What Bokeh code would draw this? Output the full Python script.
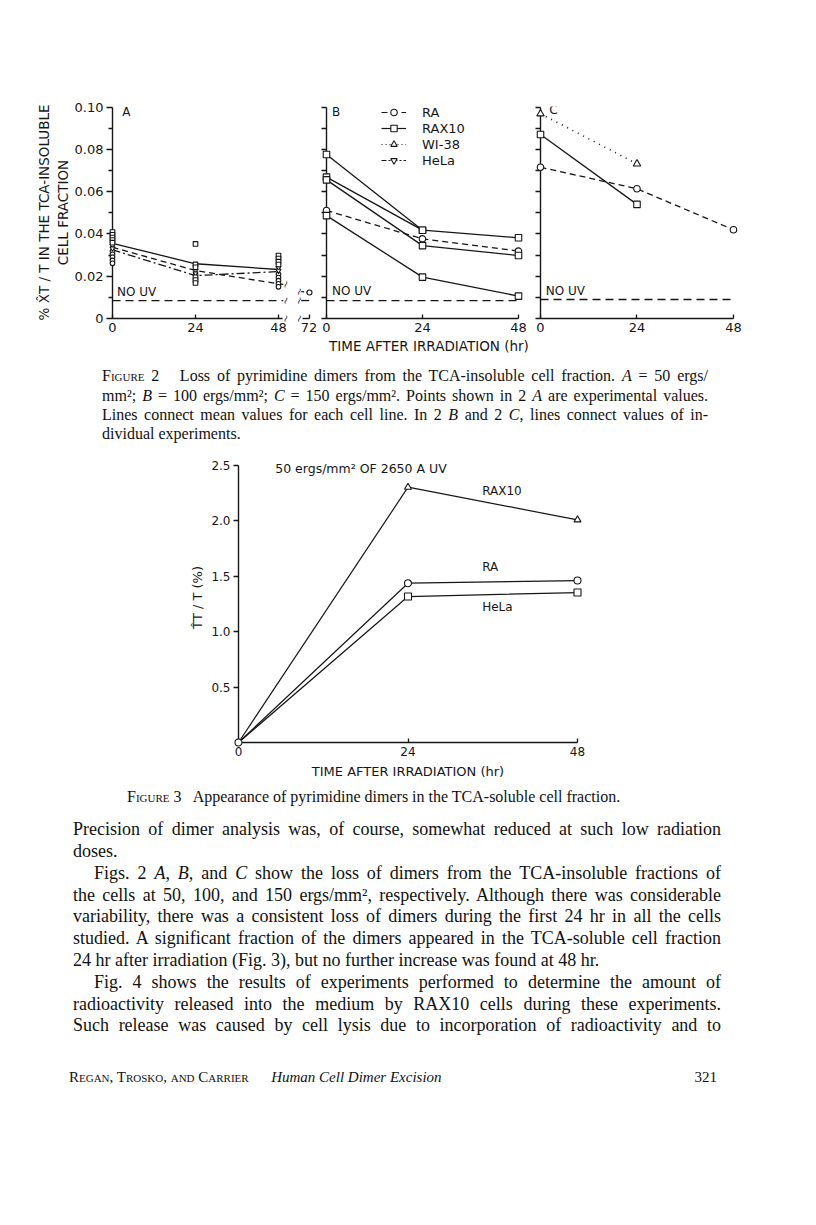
import numpy as np
from bokeh.plotting import figure
from bokeh.models import (Range1d, LinearAxis, FixedTicker, CustomJSTickFormatter,
                          Label, Legend, LegendItem, Div, ColumnDataSource)
from bokeh.core.properties import value
from bokeh.layouts import row, column
from bokeh.embed import file_html
from bokeh.resources import INLINE

# ------------------------------------------------------------------ data
HOURS = [0, 24, 48]
HOUR_72 = 72
Y2_MAJOR = [0, 0.02, 0.04, 0.06, 0.08, 0.10]
Y2_MINOR = [0.01, 0.03, 0.05, 0.07, 0.09]

# Figure 2 A (50 ergs/mm2): mean lines per cell line and experimental points
A_RAX10_MEAN = [0.0356, 0.0259, 0.0232]
A_RA_MEAN = [0.0337, 0.0227, 0.0164]
A_HELA_MEAN = [0.0325, 0.0203, 0.0222]
A_RA_72 = 0.0123
A_RAX10_T = [0, 0, 0, 0, 0, 24, 24, 24, 24, 24, 24, 48, 48, 48, 48]
A_RAX10_V = [0.0409, 0.0396, 0.0383, 0.0371, 0.0359, 0.0353, 0.0256, 0.0242,
             0.0195, 0.0182, 0.0168, 0.0298, 0.0284, 0.0269, 0.0255]
A_RA_T = [0, 0, 0, 0, 0, 24, 48, 48, 48, 48, 48]
A_RA_V = [0.0318, 0.0304, 0.0290, 0.0275, 0.0261, 0.0208, 0.0209, 0.0194, 0.0179, 0.0164, 0.0150]
A_HELA_T = [0, 0, 24, 24, 48, 48]
A_HELA_V = [0.0345, 0.0332, 0.0227, 0.0214, 0.0240, 0.0226]
NO_UV_A = 0.0085

# Figure 2 B (100 ergs/mm2): individual experiments
B_RAX10 = [[0.0776, 0.0418, 0.0382], [0.0669, 0.0418], [0.0656, 0.0345, 0.0298],
           [0.0487, 0.0196, 0.0106]]
B_RA = [0.0511, 0.0377, 0.0319]
NO_UV_B = 0.0085

# Figure 2 C (150 ergs/mm2)
C_WI38 = [0.0969, 0.0732]
C_RAX10 = [0.0871, 0.0540]
C_RA = [0.0716, 0.0614, 0.0420]
NO_UV_C = 0.0090

# Figure 3 (TCA-soluble fraction, % TT/T)
F3_RAX10 = [0, 2.30, 2.006]
F3_RA = [0, 1.435, 1.459]
F3_HELA = [0, 1.315, 1.351]
F3_YTICKS = [0.5, 1.0, 1.5, 2.0, 2.5]

LEGEND_NAMES = ["RA", "RAX10", "WI-38", "HeLa"]

# ------------------------------------------------------------------ styles
INK = "#161616"
LW = 1.3
SANS = "DejaVu Sans"
DASH_RA = "6 4"
DASH_HELA = "8 3 2 3"
DASH_WI = "1 5"
DASH_NOUV = "8 5"

Y2_PX = 2113.0          # px per unit of % dimer (fig 2)
FH2 = 212
Y2_TOP = FH2 / Y2_PX
TOP2 = 106
BOT2 = 42
BREAK_L, BREAK_R = 49.4, 69.6          # where lines stop/restart at the axis break
MARK_L, MARK_R = 50.0, 69.0            # where the break squiggles sit
AXIS_A_END, AXIS_72_START = 49.3, 69.9


def make_fig(fw, fh, xr, yr, left, right, top, bottom, **kw):
    p = figure(frame_width=fw, frame_height=fh, x_range=xr, y_range=yr,
               output_backend="svg", toolbar_location=None,
               min_border_left=left, min_border_right=right,
               min_border_top=top, min_border_bottom=bottom, **kw)
    p.grid.visible = False
    p.outline_line_color = None
    p.background_fill_color = "white"
    p.border_fill_color = "white"
    return p


def style_axis(ax, size="13px"):
    ax.axis_line_color = INK
    ax.axis_line_width = 1.4
    ax.major_tick_line_color = INK
    ax.major_tick_line_width = 1.3
    ax.minor_tick_line_color = INK
    ax.minor_tick_line_width = 1.3
    ax.major_label_text_font = SANS
    ax.major_label_text_font_size = size
    ax.major_label_text_color = INK
    ax.axis_label_text_font = SANS
    ax.axis_label_text_font_size = "13.5px"
    ax.axis_label_text_font_style = "normal"
    ax.axis_label_text_color = INK


def add_line(p, x, y, dash="solid", lw=LW, **kw):
    r = p.line(x, y, line_color=INK, line_width=lw, line_dash=dash, **kw)
    r.level = "overlay"
    return r


def add_pts(p, x, y, marker, size, **kw):
    r = p.scatter(x, y, marker=marker, size=size, fill_color="white",
                  line_color=INK, line_width=1.1, **kw)
    r.level = "overlay"
    return r


def add_text(p, x, y, text, size="12px", align="left", angle=0.0, **kw):
    lab = Label(x=x, y=y, text=text, text_font=SANS, text_font_size=size,
                text_color=INK, text_align=align, text_baseline="middle",
                angle=angle, **kw)
    p.add_layout(lab)
    return lab


def add_breaks(p, xs, ys):
    """Axis-break squiggles, drawn unclipped on the overlay level."""
    r = p.text(x=xs, y=ys, text=["~"] * len(xs), angle=1.2,
               text_font=value(SANS), text_font_size=value("10px"),
               text_color=INK, text_align=value("center"),
               text_baseline=value("middle"))
    r.level = "overlay"
    return r


def y2_axis(p, labels):
    ya = p.yaxis[0]
    style_axis(ya)
    ya.ticker = FixedTicker(ticks=Y2_MAJOR, minor_ticks=Y2_MINOR)
    ya.bounds = (0, 0.10)
    ya.major_tick_in = 0
    ya.minor_tick_in = 0
    if labels:
        ya.formatter = CustomJSTickFormatter(code="return tick == 0 ? '0' : tick.toFixed(2);")
        ya.major_tick_out = 6
        ya.minor_tick_out = 4
        ya.major_label_standoff = 3
    else:
        ya.formatter = CustomJSTickFormatter(code="return '';")
        ya.major_label_text_font_size = "0px"
        ya.major_label_standoff = 0
        ya.major_tick_out = 5
        ya.minor_tick_out = 5
    return ya


def x_axis(ax, ticks, bounds):
    style_axis(ax)
    ax.ticker = FixedTicker(ticks=ticks)
    ax.bounds = bounds
    ax.major_tick_in = 4
    ax.major_tick_out = 0
    ax.minor_tick_line_color = None
    ax.major_label_standoff = 4


# ------------------------------------------------------------------ Figure 2 A
A_PX = 3.458
FW_A = 180
pA = make_fig(FW_A, FH2, Range1d(0, FW_A / A_PX), Range1d(0, Y2_TOP), 112, 0, TOP2, BOT2)
ya = y2_axis(pA, True)
ya.axis_label = "CELL FRACTION"
ya.axis_label_standoff = 1
ya_outer = LinearAxis(axis_label="% X\u0302T / T IN THE TCA-INSOLUBLE")
style_axis(ya_outer)
ya_outer.axis_line_color = None
ya_outer.major_tick_line_color = None
ya_outer.minor_tick_line_color = None
ya_outer.major_tick_out = 0
ya_outer.major_tick_in = 0
ya_outer.minor_tick_out = 0
ya_outer.minor_tick_in = 0
ya_outer.major_label_text_font_size = "0px"
ya_outer.formatter = CustomJSTickFormatter(code="return '';")
ya_outer.major_label_standoff = 0
ya_outer.axis_label_standoff = 0
pA.add_layout(ya_outer, "left")
x_axis(pA.xaxis[0], HOURS, (0, AXIS_A_END))

add_line(pA, [0, BREAK_L], [NO_UV_A, NO_UV_A], DASH_NOUV)
add_line(pA, HOURS, A_RAX10_MEAN)
add_line(pA, HOURS, A_RA_MEAN, DASH_RA)
add_line(pA, HOURS, A_HELA_MEAN, DASH_HELA)
ra_break_l = float(np.interp(BREAK_L, [HOURS[-1], HOUR_72], [A_RA_MEAN[-1], A_RA_72]))
ra_break_r = float(np.interp(BREAK_R, [HOURS[-1], HOUR_72], [A_RA_MEAN[-1], A_RA_72]))
add_line(pA, [HOURS[-1], BREAK_L], [A_RA_MEAN[-1], ra_break_l], DASH_RA)
add_pts(pA, A_RA_T, A_RA_V, "circle", 4.6)
add_pts(pA, A_HELA_T, A_HELA_V, "inverted_triangle", 5)
add_pts(pA, A_RAX10_T, A_RAX10_V, "square", 4.6)
add_breaks(pA, [MARK_L] * 3, [0, NO_UV_A, ra_break_l])
add_text(pA, 2.8, 0.0977, "A")
add_text(pA, 1.3, 0.0124, "NO UV")

# ------------------------------------------------------------------ broken-axis piece at 72 h
FW_72 = 25
X72_AT = 17   # px from this frame's left edge where hour 72 sits
p72 = make_fig(FW_72, FH2,
               Range1d(HOUR_72 - X72_AT / A_PX, HOUR_72 + (FW_72 - X72_AT) / A_PX),
               Range1d(0, Y2_TOP), 0, 0, TOP2, BOT2, y_axis_location=None)
x_axis(p72.xaxis[0], [HOUR_72], (AXIS_72_START, HOUR_72))
add_line(p72, [BREAK_R, HOUR_72], [NO_UV_A, NO_UV_A], DASH_NOUV)
add_line(p72, [BREAK_R, HOUR_72], [ra_break_r, A_RA_72], "3 2")
add_pts(p72, [HOUR_72], [A_RA_72], "circle", 5)
add_breaks(p72, [MARK_R] * 3, [0, NO_UV_A, ra_break_r])

# ------------------------------------------------------------------ Figure 2 B
B_PX = 4.0
FW_B = 205
pB = make_fig(FW_B, FH2, Range1d(0, FW_B / B_PX), Range1d(0, Y2_TOP), 9, 0, TOP2, BOT2)
y2_axis(pB, False)
x_axis(pB.xaxis[0], HOURS, (0, HOURS[-1]))
pB.xaxis[0].axis_label = "TIME AFTER IRRADIATION (hr)"
pB.xaxis[0].axis_label_standoff = 3
add_line(pB, [HOURS[0], HOURS[-1]], [NO_UV_B, NO_UV_B], DASH_NOUV)
add_line(pB, HOURS, B_RA, DASH_RA)
for exp in B_RAX10:
    add_line(pB, HOURS[:len(exp)], exp)
add_pts(pB, HOURS, B_RA, "circle", 6.5)
for exp in B_RAX10:
    add_pts(pB, HOURS[:len(exp)], exp, "square", 6.5)
add_text(pB, 1.4, 0.0977, "B")
add_text(pB, 1.4, 0.0129, "NO UV")

items = []
for name, marker, dash in zip(LEGEND_NAMES,
                              ["circle", "square", "triangle", "inverted_triangle"],
                              [DASH_RA, "solid", "1 3", "5 2 2 2"]):
    src = ColumnDataSource(dict(x=[np.nan], y=[np.nan]))
    lr = pB.line("x", "y", source=src, line_color=INK, line_width=1.2, line_dash=dash)
    sr = pB.scatter("x", "y", source=src, marker=marker, size=7, fill_color="white",
                    line_color=INK, line_width=1.1)
    items.append(LegendItem(label=name, renderers=[lr, sr]))
legend = Legend(items=items, location=(55, 150), orientation="vertical",
                border_line_color=None, background_fill_alpha=0, padding=0, margin=0,
                spacing=0, glyph_width=25, glyph_height=16, label_height=16,
                label_standoff=16, label_text_font=SANS, label_text_font_size="13px",
                label_text_color=INK)
pB.add_layout(legend)

# ------------------------------------------------------------------ Figure 2 C
C_PX = 4.02
FW_C = 220
pC = make_fig(FW_C, FH2, Range1d(0, FW_C / C_PX), Range1d(0, Y2_TOP), 9, 12, TOP2, BOT2)
y2_axis(pC, False)
x_axis(pC.xaxis[0], HOURS, (0, HOURS[-1]))
add_line(pC, [HOURS[0], HOURS[-1]], [NO_UV_C, NO_UV_C], DASH_NOUV)
add_line(pC, HOURS[:2], C_WI38, DASH_WI, lw=1.6)
add_line(pC, HOURS[:2], C_RAX10)
add_line(pC, HOURS, C_RA, DASH_RA)
add_pts(pC, HOURS[:2], C_WI38, "triangle", 7.5)
add_pts(pC, HOURS[:2], C_RAX10, "square", 6.5)
add_pts(pC, HOURS, C_RA, "circle", 6.5)
add_text(pC, 2.2, 0.0985, "C")
add_text(pC, 1.3, 0.0129, "NO UV")

# ------------------------------------------------------------------ Figure 3
F3_YPX = 111.0
FH3 = 290
p3 = make_fig(339, FH3, Range1d(0, 48), Range1d(0, FH3 / F3_YPX), 238, 60, 8, 44)
y3 = p3.yaxis[0]
style_axis(y3, "12px")
y3.ticker = FixedTicker(ticks=F3_YTICKS)
y3.formatter = CustomJSTickFormatter(code="return tick.toFixed(1);")
y3.bounds = (0, 2.5)
y3.major_tick_out = 5
y3.major_tick_in = 0
y3.minor_tick_line_color = None
y3.major_label_standoff = 3
y3.axis_label = "T\u0302T / T (%)"
y3.axis_label_standoff = 3
y3.axis_label_text_font_size = "13px"
x3 = p3.xaxis[0]
x_axis(x3, HOURS, (0, 48))
x3.major_label_text_font_size = "12px"
x3.axis_label = "TIME AFTER IRRADIATION (hr)"
x3.axis_label_text_font_size = "13px"
x3.axis_label_standoff = 5
add_line(p3, HOURS, F3_RAX10, lw=1.2)
add_line(p3, HOURS, F3_RA, lw=1.2)
add_line(p3, HOURS, F3_HELA, lw=1.2)
add_pts(p3, HOURS[1:], F3_RAX10[1:], "triangle", 7)
add_pts(p3, HOURS[1:], F3_HELA[1:], "square", 7)
add_pts(p3, HOURS, F3_RA, "circle", 7)
add_text(p3, 34.5, 2.264, "RAX10")
add_text(p3, 34.5, 1.577, "RA")
add_text(p3, 34.5, 1.219, "HeLa")
add_text(p3, 5.2, 2.47, "50 ergs/mm\u00b2 OF 2650 A UV", size="12.5px")

# ------------------------------------------------------------------ page text
SERIF = "'Liberation Serif','Times New Roman',serif"


def text_line(left, top, width, html, size, lh, justify=True, extra=""):
    align = ("text-align:justify;text-align-last:justify;" if justify else "text-align:left;")
    return ('<div style="position:absolute;left:%.1fpx;top:%.1fpx;width:%.1fpx;'
            'font-family:%s;font-size:%spx;line-height:%spx;white-space:nowrap;%scolor:#111;%s">%s</div>'
            % (left, top, width, SERIF, size, lh, align, extra, html))


SC = '<span style="font-variant:small-caps">%s</span>'
CAP2 = [
    SC % "Figure" + ' 2&nbsp;&nbsp; Loss of pyrimidine dimers from the TCA-insoluble cell fraction. <i>A</i> = 50 ergs/',
    'mm\u00b2; <i>B</i> = 100 ergs/mm\u00b2; <i>C</i> = 150 ergs/mm\u00b2. Points shown in 2 <i>A</i> are experimental values.',
    'Lines connect mean values for each cell line. In 2 <i>B</i> and 2 <i>C</i>, lines connect values of in-',
    'dividual experiments.',
]
CAP3 = SC % "Figure" + ' 3&nbsp;&nbsp; Appearance of pyrimidine dimers in the TCA-soluble cell fraction.'
BODY = [
    ("Precision of dimer analysis was, of course, somewhat reduced at such low radiation", True, 0),
    ("doses.", False, 0),
    ("Figs. 2 <i>A</i>, <i>B</i>, and <i>C</i> show the loss of dimers from the TCA-insoluble fractions of", True, 21),
    ("the cells at 50, 100, and 150 ergs/mm\u00b2, respectively. Although there was considerable", True, 0),
    ("variability, there was a consistent loss of dimers during the first 24 hr in all the cells", True, 0),
    ("studied. A significant fraction of the dimers appeared in the TCA-soluble cell fraction", True, 0),
    ("24 hr after irradiation (Fig. 3), but no further increase was found at 48 hr.", False, 0),
    ("Fig. 4 shows the results of experiments performed to determine the amount of", True, 21),
    ("radioactivity released into the medium by RAX10 cells during these experiments.", True, 0),
    ("Such release was caused by cell lysis due to incorporation of radioactivity and to", True, 0),
]
FOOTER_LEFT = SC % "Regan, Trosko, and Carrier" + '&emsp;&ensp;<i>Human Cell Dimer Excision</i>'
FOOTER_RIGHT = "321"

cap_html = '<div style="position:relative;width:800px;height:84px;">'
for i, ln in enumerate(CAP2):
    cap_html += text_line(102, 6.4 + i * 19.2, 606, ln, 16, 19.2, justify=(i < 3))
cap_html += '</div>'
cap2_div = Div(text=cap_html, width=800, height=84, margin=0)

body_html = '<div style="position:relative;width:800px;height:310px;">'
body_html += text_line(127, 1.1, 600, CAP3, 16, 19.2, justify=False)
for i, (ln, just, indent) in enumerate(BODY):
    body_html += text_line(73 + indent, 33.1 + i * 21.8, 648 - indent, ln, 18, 21.8, justify=just)
body_html += text_line(69, 281.5, 600, FOOTER_LEFT, 15, 19, justify=False)
body_html += text_line(617, 281.5, 100, FOOTER_RIGHT, 15, 19, justify=False, extra="text-align:right;")
body_html += '</div>'
body_div = Div(text=body_html, width=800, height=310, margin=0)

layout = column(row(pA, p72, pB, pC, spacing=0), cap2_div, p3, body_div, spacing=0)

with open("out.html", "w") as f:
    f.write(file_html(layout, INLINE))
